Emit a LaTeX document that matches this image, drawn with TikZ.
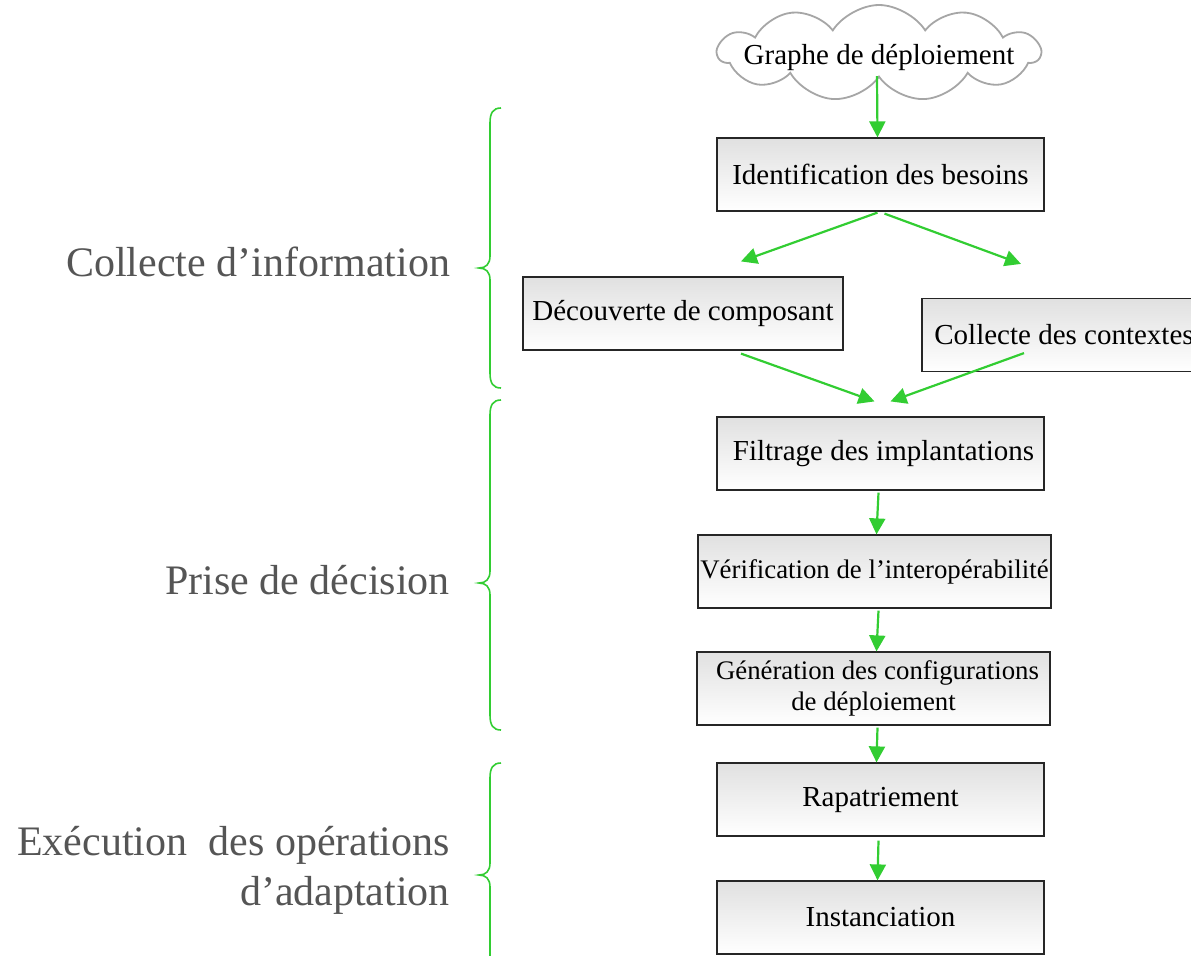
\documentclass[tikz,border=0pt]{standalone}
\usepackage{fontspec}
\setmainfont{Liberation Serif}
\usetikzlibrary{shapes.symbols,arrows.meta}
\definecolor{flow}{RGB}{50,205,50}
\definecolor{labelgray}{RGB}{85,85,85}
\tikzset{
  stepbox/.style={draw=black!85, line width=0.6pt, top color=black!12, bottom color=white,
    minimum width=163.5pt, minimum height=36.5pt, inner sep=0pt, align=center,
    font=\fontsize{14.5}{16.5}\selectfont},
  smalltext/.style={font=\fontsize{13.4}{15.5}\selectfont},
  flowarrow/.style={draw=flow, line width=1.1pt, -{Triangle[length=8pt,width=8pt]}},
  phase/.style={text=labelgray, anchor=east, align=right, font=\fontsize{21}{25}\selectfont},
  bracepath/.style={draw=flow, line width=0.8pt},
  cloudshape/.style={cloud, cloud puffs=11, cloud puff arc=115, cloud ignores aspect,
    draw=black!35, fill=white, line width=0.9pt, minimum width=161pt, minimum height=48pt, inner sep=0pt},
}
% curly brace drawn on the left of a phase: top, tip and bottom heights
\newcommand{\phasebrace}[3]{%
  \draw[bracepath] (501,#1) .. controls (493,#1) and (490,#1+5) .. (490,#1+15)
    -- (490,#2-12) .. controls (490,#2-4) and (486,#2) .. (479,#2)
    .. controls (486,#2) and (490,#2+4) .. (490,#2+12)
    -- (490,#3-15) .. controls (490,#3-5) and (493,#3) .. (501,#3);}

\begin{document}
\begin{tikzpicture}[x=0.5pt,y=-0.5pt]
\useasboundingbox (0,0) rectangle (1191,955);
\clip (0,0) rectangle (1191,955);

% deployment graph cloud
\node[cloudshape] (graph) at (879,53) {};
\node[font=\fontsize{14.5}{16.5}\selectfont, inner sep=0pt] (graphtext) at ([yshift=-2pt]graph.center) {Graphe de déploiement};

% process steps
\node[stepbox] (ident) at (880.5,174.5) {Identification des besoins};
\node[stepbox, minimum width=160pt] (decouv) at (683,313.5) {Découverte de composant};
\node[stepbox, minimum width=142pt] (collecte) at (1064,335) {Collecte des contextes};
\node[stepbox] (filtrage) at (880.5,453.5) {\hspace*{3pt}Filtrage des implantations};
\node[stepbox, smalltext, minimum width=176.5pt] (verif) at (874.5,571.5) {Vérification de l’interopérabilité};
\node[stepbox, smalltext, minimum width=176.5pt] (gen) at (873.5,688.5) {\hspace*{4pt}Génération des configurations\\de déploiement};
\node[stepbox] (rapat) at (880.5,799.5) {Rapatriement};
\node[stepbox] (inst) at (880.5,917.5) {Instanciation};

% flow arrows
\draw[flowarrow] ([xshift=-1pt,yshift=1pt]graph.south) -- ([xshift=-1.5pt]ident.north);
\draw[flowarrow] ([xshift=-1.5pt,yshift=-0.5pt]ident.south) -- ([xshift=29pt,yshift=7.5pt]decouv.north);
\draw[flowarrow] ([xshift=2pt,yshift=-1pt]ident.south) -- ([xshift=-21.5pt,yshift=17pt]collecte.north);
\draw[flowarrow] ([xshift=29pt,yshift=-1.5pt]decouv.south) -- ([xshift=-3pt,yshift=7.5pt]filtrage.north);
\draw[flowarrow] ([xshift=-20pt,yshift=9.5pt]collecte.south) -- ([xshift=5pt,yshift=7.5pt]filtrage.north);
\draw[flowarrow] ([xshift=-1pt,yshift=-1pt]filtrage.south) -- ([xshift=1pt]verif.north);
\draw[flowarrow] ([xshift=2pt,yshift=-1pt]verif.south) -- ([xshift=1.5pt]gen.north);
\draw[flowarrow] ([xshift=2pt,yshift=-1pt]gen.south) -- ([xshift=-2pt]rapat.north);
\draw[flowarrow] ([xshift=-1pt,yshift=-2pt]rapat.south) -- ([xshift=-1.5pt]inst.north);

% phase braces
\phasebrace{108}{268}{388}
\phasebrace{400}{583}{730}
\phasebrace{763}{875}{975}

% phase labels
\node[phase] (collect) at (457,262) {Collecte d’information};
\node[phase] (decide) at (457,580) {Prise de décision};
\node[phase] (execute) at (457,870) {Exécution\ \ des opérations\\d’adaptation};
\end{tikzpicture}
\end{document}
